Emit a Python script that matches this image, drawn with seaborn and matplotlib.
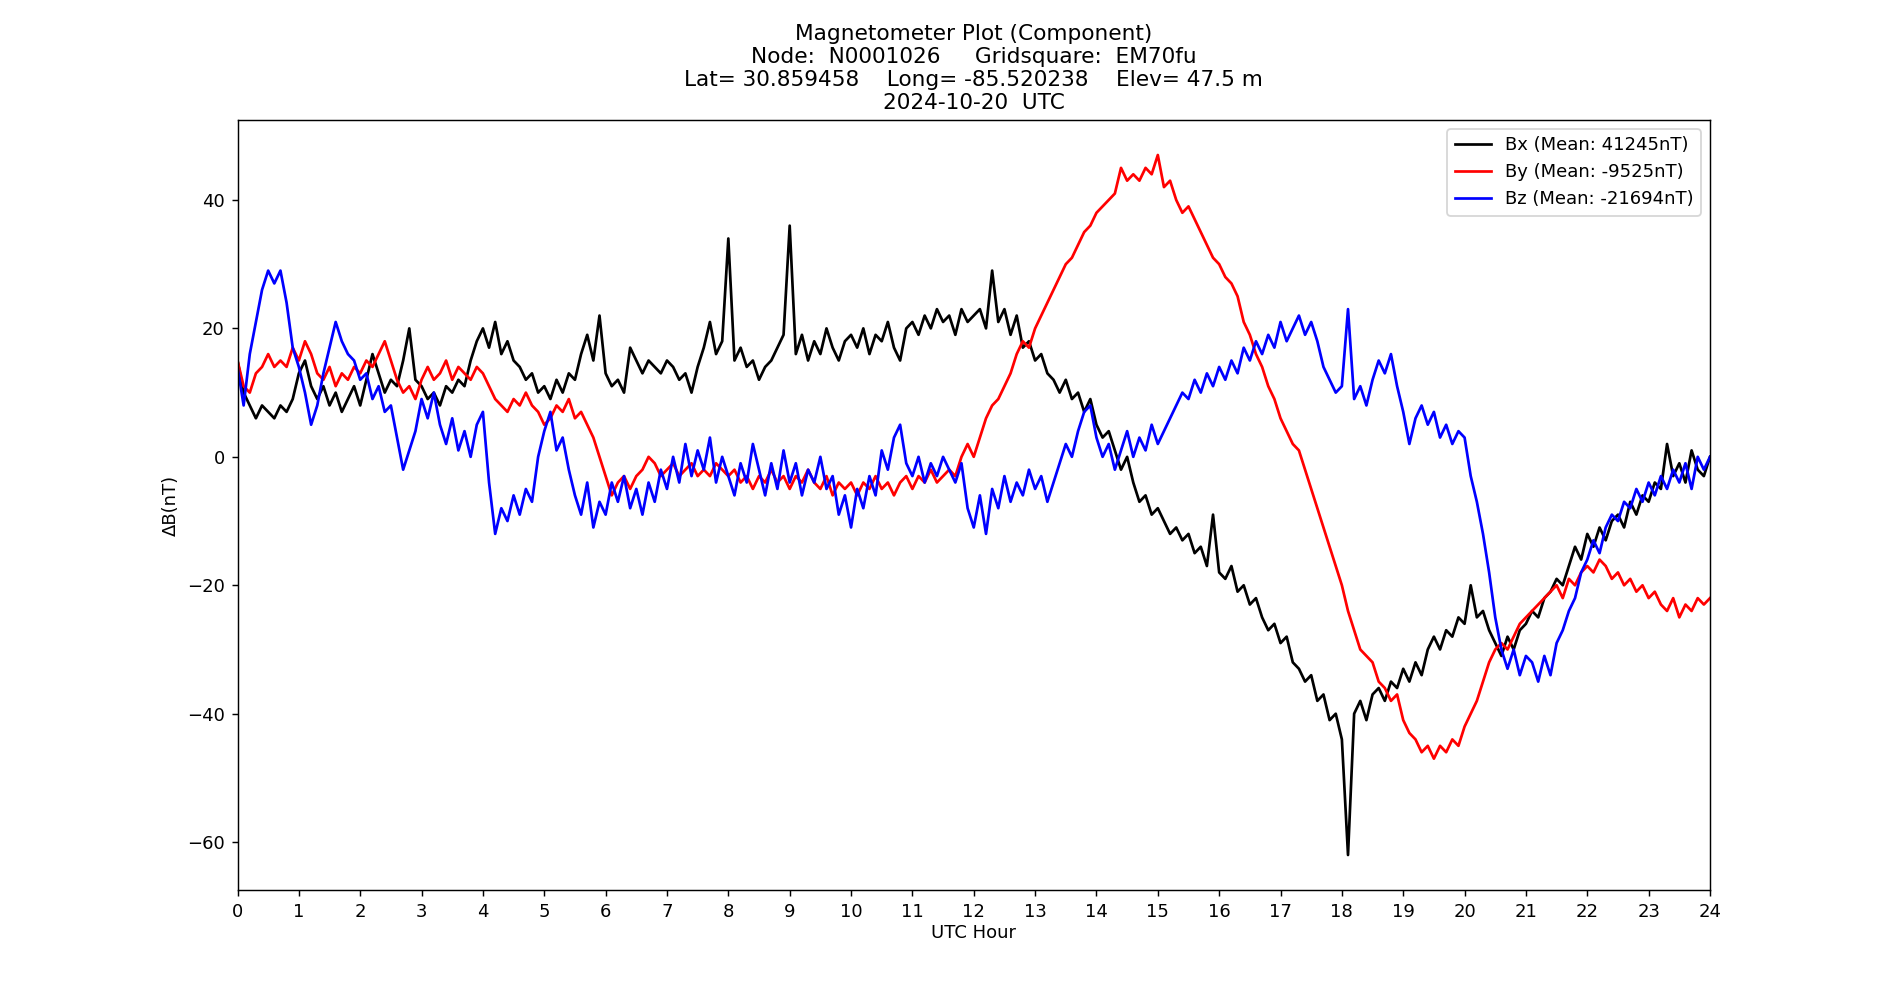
import numpy as np
import pandas as pd
import matplotlib
matplotlib.use("Agg")
import matplotlib.pyplot as plt
import seaborn as sns

# deviation from daily mean (nT), sampled every 0.1 h, one row per hour
bx = [
    15, 10, 8, 6, 8, 7, 6, 8, 7, 9,
    13, 15, 11, 9, 11, 8, 10, 7, 9, 11,
    8, 12, 16, 13, 10, 12, 11, 15, 20, 12,
    11, 9, 10, 8, 11, 10, 12, 11, 15, 18,
    20, 17, 21, 16, 18, 15, 14, 12, 13, 10,
    11, 9, 12, 10, 13, 12, 16, 19, 15, 22,
    13, 11, 12, 10, 17, 15, 13, 15, 14, 13,
    15, 14, 12, 13, 10, 14, 17, 21, 16, 18,
    34, 15, 17, 14, 15, 12, 14, 15, 17, 19,
    36, 16, 19, 15, 18, 16, 20, 17, 15, 18,
    19, 17, 20, 16, 19, 18, 21, 17, 15, 20,
    21, 19, 22, 20, 23, 21, 22, 19, 23, 21,
    22, 23, 20, 29, 21, 23, 19, 22, 17, 18,
    15, 16, 13, 12, 10, 12, 9, 10, 7, 9,
    5, 3, 4, 1, -2, 0, -4, -7, -6, -9,
    -8, -10, -12, -11, -13, -12, -15, -14, -17, -9,
    -18, -19, -17, -21, -20, -23, -22, -25, -27, -26,
    -29, -28, -32, -33, -35, -34, -38, -37, -41, -40,
    -44, -62, -40, -38, -41, -37, -36, -38, -35, -36,
    -33, -35, -32, -34, -30, -28, -30, -27, -28, -25,
    -26, -20, -25, -24, -27, -29, -31, -28, -30, -27,
    -26, -24, -25, -22, -21, -19, -20, -17, -14, -16,
    -12, -14, -11, -13, -10, -9, -11, -7, -9, -6,
    -7, -4, -5, 2, -3, -1, -4, 1, -2, -3,
    0,
]

by = [
    15, 11, 10, 13, 14, 16, 14, 15, 14, 17,
    15, 18, 16, 13, 12, 14, 11, 13, 12, 14,
    13, 15, 14, 16, 18, 15, 12, 10, 11, 9,
    12, 14, 12, 13, 15, 12, 14, 13, 12, 14,
    13, 11, 9, 8, 7, 9, 8, 10, 8, 7,
    5, 6, 8, 7, 9, 6, 7, 5, 3, 0,
    -3, -6, -4, -3, -5, -3, -2, 0, -1, -3,
    -2, -1, -3, -2, -1, -3, -2, -3, -1, -2,
    -3, -2, -4, -3, -5, -3, -4, -2, -4, -3,
    -5, -3, -4, -2, -4, -5, -3, -6, -4, -5,
    -4, -6, -4, -5, -3, -5, -4, -6, -4, -3,
    -5, -3, -4, -2, -4, -3, -2, -3, 0, 2,
    0, 3, 6, 8, 9, 11, 13, 16, 18, 17,
    20, 22, 24, 26, 28, 30, 31, 33, 35, 36,
    38, 39, 40, 41, 45, 43, 44, 43, 45, 44,
    47, 42, 43, 40, 38, 39, 37, 35, 33, 31,
    30, 28, 27, 25, 21, 19, 16, 14, 11, 9,
    6, 4, 2, 1, -2, -5, -8, -11, -14, -17,
    -20, -24, -27, -30, -31, -32, -35, -36, -38, -37,
    -41, -43, -44, -46, -45, -47, -45, -46, -44, -45,
    -42, -40, -38, -35, -32, -30, -29, -30, -28, -26,
    -25, -24, -23, -22, -21, -20, -22, -19, -20, -18,
    -17, -18, -16, -17, -19, -18, -20, -19, -21, -20,
    -22, -21, -23, -24, -22, -25, -23, -24, -22, -23,
    -22,
]

bz = [
    14, 8, 16, 21, 26, 29, 27, 29, 24, 17,
    14, 10, 5, 8, 13, 17, 21, 18, 16, 15,
    12, 13, 9, 11, 7, 8, 3, -2, 1, 4,
    9, 6, 10, 5, 2, 6, 1, 4, 0, 5,
    7, -4, -12, -8, -10, -6, -9, -5, -7, 0,
    4, 7, 1, 3, -2, -6, -9, -4, -11, -7,
    -9, -4, -7, -3, -8, -5, -9, -4, -7, -2,
    -5, 0, -4, 2, -3, 1, -2, 3, -4, 0,
    -3, -6, -1, -4, 2, -2, -6, -1, -5, 1,
    -4, -1, -6, -2, -4, 0, -5, -3, -9, -6,
    -11, -5, -8, -3, -6, 1, -2, 3, 5, -1,
    -3, 0, -4, -1, -3, 0, -2, -4, -1, -8,
    -11, -6, -12, -5, -8, -3, -7, -4, -6, -2,
    -5, -3, -7, -4, -1, 2, 0, 4, 7, 8,
    3, 0, 2, -2, 1, 4, 0, 3, 1, 5,
    2, 4, 6, 8, 10, 9, 12, 10, 13, 11,
    14, 12, 15, 13, 17, 15, 18, 16, 19, 17,
    21, 18, 20, 22, 19, 21, 18, 14, 12, 10,
    11, 23, 9, 11, 8, 12, 15, 13, 16, 11,
    7, 2, 6, 8, 5, 7, 3, 5, 2, 4,
    3, -3, -7, -12, -18, -25, -30, -33, -30, -34,
    -31, -32, -35, -31, -34, -29, -27, -24, -22, -18,
    -16, -13, -15, -11, -9, -10, -7, -8, -5, -7,
    -4, -6, -3, -5, -2, -4, -1, -5, 0, -2,
    0,
]

components = ["Bx", "By", "Bz"]
means = [41245, -9525, -21694]
colors = ["black", "red", "blue"]
hours = np.round(np.arange(len(bx)) * 0.1, 1)

labels = [f"{c} (Mean: {m}nT)" for c, m in zip(components, means)]
frames = []
for lab, vals in zip(labels, [bx, by, bz]):
    frames.append(pd.DataFrame({"hour": hours, "dB": vals, "comp": lab}))
df = pd.concat(frames, ignore_index=True)

dpi = 130
fig, ax = plt.subplots(figsize=(1900 / dpi, 1000 / dpi), dpi=dpi)

sns.lineplot(
    data=df,
    x="hour",
    y="dB",
    hue="comp",
    palette=dict(zip(labels, colors)),
    estimator=None,
    linewidth=1.5,
    ax=ax,
)

ax.set_xlim(0, 24)
ax.set_xticks(range(0, 25))
ax.set_xlabel("UTC Hour", labelpad=2)
ax.set_ylabel("\u0394B(nT)")
ax.set_title(
    "Magnetometer Plot (Component)\n"
    "Node:  N0001026     Gridsquare:  EM70fu\n"
    "Lat= 30.859458    Long= -85.520238    Elev= 47.5 m\n"
    "2024-10-20  UTC"
)
ax.legend(loc="upper right", title=None)

fig.savefig("out.png", dpi=dpi)
